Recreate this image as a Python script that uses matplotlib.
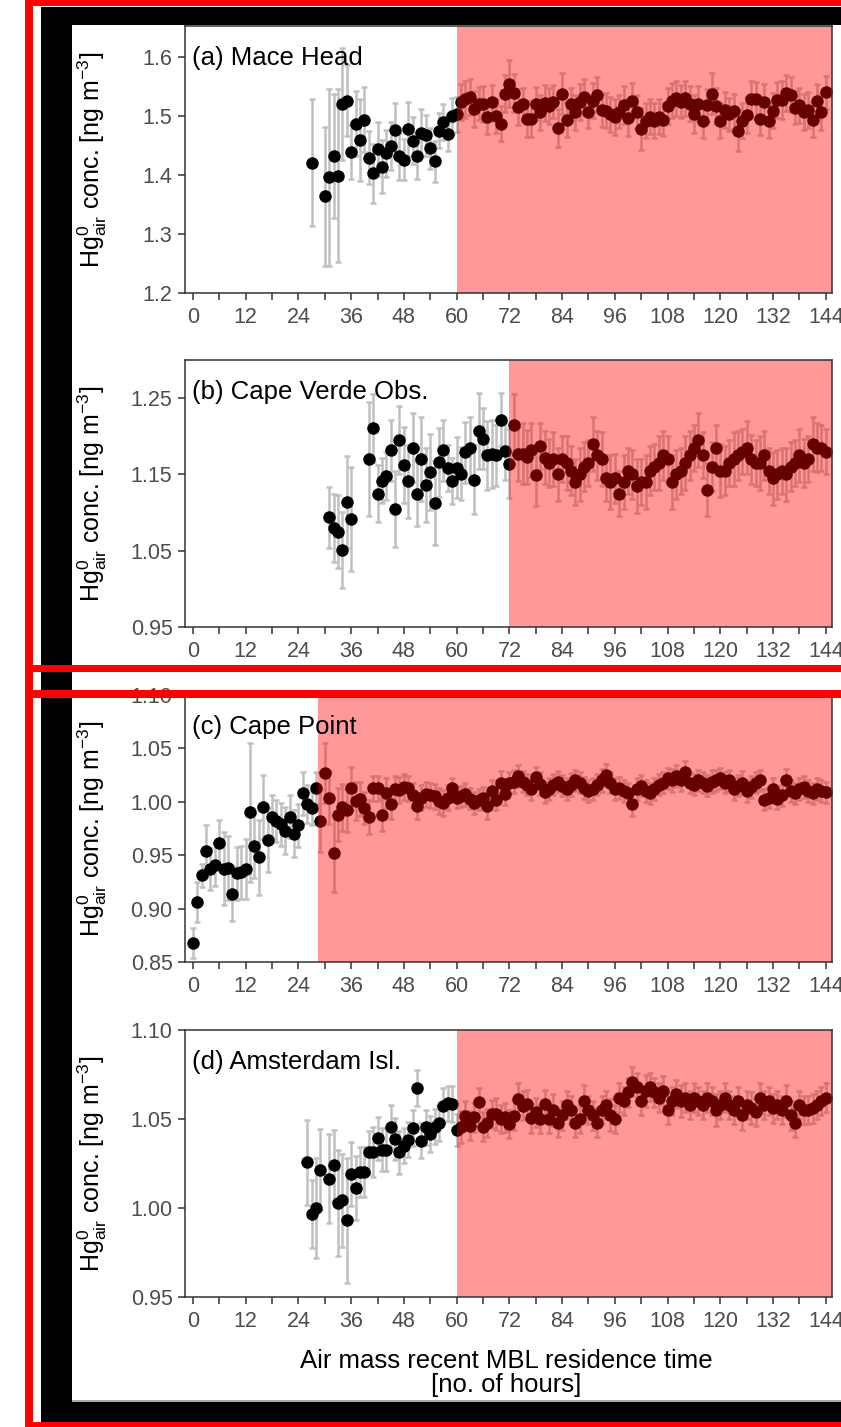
import matplotlib
matplotlib.use("Agg")
import matplotlib.pyplot as plt
from matplotlib.patches import Rectangle

plt.rcParams['font.family'] = ['Liberation Sans', 'DejaVu Sans']
plt.rcParams['mathtext.fontset'] = 'custom'
plt.rcParams['mathtext.rm'] = 'Liberation Sans'
plt.rcParams['mathtext.it'] = 'Liberation Sans:italic'

# ---- data ----
hours_a = [27] + list(range(30, 145))
conc_a = [1.421, 1.364, 1.396, 1.432, 1.399, 1.521, 1.526, 1.439, 1.487, 1.459, 1.494, 1.429,
          1.403, 1.444, 1.414, 1.437, 1.449, 1.477, 1.432, 1.426, 1.478, 1.458, 1.433, 1.471,
          1.467, 1.445, 1.423, 1.475, 1.490, 1.470, 1.500, 1.503,
          1.524, 1.528, 1.532, 1.512, 1.521, 1.520, 1.498, 1.523, 1.500, 1.487, 1.538, 1.555,
          1.539, 1.515, 1.520, 1.495, 1.495, 1.521, 1.506, 1.522, 1.517, 1.524, 1.480, 1.538,
          1.494, 1.520, 1.506, 1.524, 1.532, 1.507, 1.526, 1.536, 1.510, 1.509, 1.503, 1.498,
          1.507, 1.518, 1.496, 1.526, 1.507, 1.478, 1.492, 1.499, 1.492, 1.499, 1.494, 1.517,
          1.526, 1.530, 1.524, 1.530, 1.521, 1.503, 1.521, 1.492, 1.518, 1.538, 1.517, 1.492,
          1.510, 1.503, 1.508, 1.475, 1.492, 1.502, 1.528, 1.528, 1.495, 1.524, 1.492, 1.509,
          1.527, 1.527, 1.539, 1.536, 1.514, 1.518, 1.507, 1.510, 1.494, 1.526, 1.507, 1.540]
err_a = [0.108, 0.118, 0.150, 0.105, 0.147, 0.095, 0.060, 0.045, 0.055, 0.070, 0.055, 0.045,
         0.050, 0.045, 0.045, 0.040, 0.040, 0.045, 0.040, 0.035, 0.045, 0.040, 0.040, 0.040,
         0.035, 0.035, 0.035, 0.030, 0.030, 0.030, 0.030, 0.030,
         0.030, 0.032, 0.030, 0.030, 0.028, 0.030, 0.028, 0.030, 0.028, 0.030, 0.032, 0.040,
         0.032, 0.030, 0.028, 0.030, 0.030, 0.028, 0.030, 0.030, 0.030, 0.028, 0.032, 0.035,
         0.030, 0.028, 0.030, 0.030, 0.030, 0.028, 0.030, 0.030, 0.028, 0.030, 0.030, 0.030,
         0.028, 0.032, 0.030, 0.030, 0.028, 0.035, 0.030, 0.030, 0.030, 0.030, 0.028, 0.030,
         0.030, 0.030, 0.028, 0.030, 0.030, 0.032, 0.030, 0.030, 0.028, 0.035, 0.030, 0.030,
         0.030, 0.028, 0.030, 0.035, 0.030, 0.030, 0.032, 0.030, 0.028, 0.030, 0.030, 0.030,
         0.030, 0.032, 0.030, 0.030, 0.028, 0.030, 0.030, 0.030, 0.030, 0.028, 0.030, 0.028]

hours_b = list(range(31, 37)) + list(range(40, 145))
conc_b = [1.094, 1.080, 1.075, 1.051, 1.114, 1.092,
          1.170, 1.211, 1.125, 1.142, 1.148, 1.182, 1.105, 1.195, 1.162, 1.141, 1.185, 1.125,
          1.170, 1.136, 1.153, 1.113, 1.166, 1.182, 1.158, 1.141, 1.159, 1.151, 1.179, 1.185,
          1.143, 1.207, 1.197, 1.175, 1.177, 1.175, 1.222, 1.181, 1.164, 1.215, 1.177, 1.177,
          1.173, 1.182, 1.149, 1.187, 1.172,
          1.165, 1.170, 1.150, 1.170, 1.165, 1.155, 1.140, 1.150, 1.160, 1.165, 1.190, 1.175,
          1.170, 1.145, 1.140, 1.145, 1.125, 1.140, 1.155, 1.150, 1.135, 1.140, 1.140, 1.155,
          1.160, 1.165, 1.175, 1.170, 1.140, 1.150, 1.155, 1.165, 1.175, 1.185, 1.195, 1.175,
          1.130, 1.160, 1.185, 1.155, 1.155, 1.165, 1.170, 1.175, 1.180, 1.185, 1.170, 1.165,
          1.165, 1.175, 1.155, 1.145, 1.150, 1.155, 1.150, 1.160, 1.165, 1.175, 1.165, 1.170,
          1.190, 1.185, 1.185, 1.180]
err_b = [0.040, 0.045, 0.048, 0.050, 0.060, 0.068,
         0.075, 0.045, 0.038, 0.030, 0.032, 0.040, 0.050, 0.045, 0.050, 0.048, 0.045, 0.042,
         0.055, 0.048, 0.050, 0.055, 0.045, 0.040, 0.030, 0.030, 0.040, 0.035, 0.040, 0.040,
         0.045, 0.050, 0.040, 0.045, 0.045, 0.040, 0.035, 0.038, 0.045, 0.040, 0.035, 0.040,
         0.035, 0.035, 0.040, 0.030, 0.035, 0.032, 0.035, 0.035, 0.030, 0.035, 0.032, 0.030,
         0.035, 0.032, 0.030, 0.035, 0.032, 0.035, 0.030, 0.035, 0.032, 0.030, 0.035, 0.030,
         0.032, 0.035, 0.030, 0.035, 0.032, 0.030, 0.035, 0.032, 0.030, 0.035, 0.032, 0.030,
         0.035, 0.032, 0.030, 0.035, 0.030, 0.035, 0.032, 0.030, 0.035, 0.032, 0.030, 0.035,
         0.032, 0.030, 0.035, 0.032, 0.030, 0.035, 0.032, 0.030, 0.035, 0.032, 0.030, 0.035,
         0.032, 0.030, 0.035, 0.032, 0.030, 0.035, 0.032, 0.030, 0.030]

hours_c = list(range(0, 145))
conc_c = [0.868, 0.906, 0.931, 0.954, 0.937, 0.941, 0.961, 0.9375, 0.938, 0.914,
          0.933, 0.934, 0.937, 0.990, 0.959, 0.948, 0.995, 0.964, 0.986, 0.982,
          0.979, 0.973, 0.986, 0.970, 0.978, 1.008, 0.998, 0.994, 1.0125, 0.982,
          1.027, 1.004, 0.952, 0.988, 0.995, 0.992, 1.0125, 1.001, 1.003, 0.994,
          0.986, 1.0125, 1.0125, 0.988, 1.008, 0.998, 1.012, 1.011, 1.014, 1.0125,
          1.006, 0.996, 1.004, 1.007, 1.006, 1.005, 1.001, 0.999, 1.004, 1.0125,
          1.004, 1.005, 1.007, 1.003, 0.999, 1.002, 1.004, 0.996, 1.010, 1.002,
          1.018, 1.007, 1.018, 1.019, 1.024, 1.019, 1.016, 1.012, 1.023, 1.017,
          1.009, 1.012, 1.016, 1.019, 1.015, 1.012, 1.016, 1.020, 1.018, 1.013,
          1.010, 1.012, 1.016, 1.020, 1.025, 1.018, 1.012, 1.013, 1.010, 1.008,
          0.998, 1.012, 1.015, 1.010, 1.008, 1.012, 1.016, 1.018, 1.022, 1.020,
          1.024, 1.020, 1.028, 1.018, 1.016, 1.020, 1.018, 1.015, 1.019, 1.020,
          1.022, 1.018, 1.020, 1.012, 1.015, 1.018, 1.010, 1.014, 1.018, 1.020,
          1.002, 1.004, 1.012, 1.003, 1.006, 1.020, 1.010, 1.008, 1.012, 1.014,
          1.010, 1.008, 1.012, 1.010, 1.009]
err_c = [0.014, 0.019, 0.011, 0.024, 0.020, 0.020, 0.022, 0.034, 0.030, 0.026, 0.025, 0.025,
         0.028, 0.065, 0.030, 0.035, 0.030, 0.030, 0.020, 0.020, 0.020, 0.022, 0.020, 0.022,
         0.020, 0.020, 0.018, 0.016, 0.015, 0.029, 0.028, 0.025, 0.036, 0.025, 0.022, 0.020,
         0.020, 0.018, 0.016, 0.015, 0.016, 0.012, 0.012, 0.015, 0.014, 0.014, 0.012, 0.012,
         0.012, 0.012, 0.012, 0.012, 0.012, 0.012, 0.012, 0.012, 0.012, 0.012, 0.012, 0.010,
         0.010, 0.010, 0.011, 0.010, 0.010, 0.010, 0.010, 0.012, 0.010, 0.010, 0.011, 0.010,
         0.010, 0.011, 0.010, 0.010, 0.010, 0.010, 0.010, 0.011, 0.010, 0.010, 0.010, 0.010,
         0.010, 0.010, 0.011, 0.010, 0.010, 0.010, 0.010, 0.010, 0.010, 0.011, 0.010, 0.010,
         0.010, 0.010, 0.010, 0.010, 0.011, 0.010, 0.010, 0.010, 0.010, 0.010, 0.010, 0.010,
         0.010, 0.011, 0.010, 0.010, 0.010, 0.010, 0.010, 0.010, 0.010, 0.010, 0.011, 0.010,
         0.010, 0.010, 0.010, 0.010, 0.010, 0.011, 0.010, 0.010, 0.010, 0.010, 0.010, 0.010,
         0.010, 0.010, 0.010, 0.011, 0.010, 0.010, 0.010, 0.010, 0.010, 0.010, 0.010, 0.010,
         0.010]

hours_d = [26, 27, 28, 29] + list(range(31, 145))
conc_d = [1.0257, 0.9968, 1.0000, 1.0216,
          1.0164, 1.0239, 1.0028, 1.0043, 0.9931, 1.0192, 1.0112, 1.0201, 1.0201, 1.0313,
          1.0313, 1.0392, 1.0327, 1.0328, 1.0457, 1.0388, 1.0313, 1.0351, 1.0384, 1.0450,
          1.0674, 1.0379, 1.0453, 1.0416, 1.0457, 1.0476, 1.0575, 1.0588, 1.0584, 1.0438,
          1.0453, 1.0519, 1.0463, 1.0509, 1.0593, 1.0457, 1.0478, 1.0528, 1.0528, 1.0500,
          1.0509, 1.0472, 1.0519, 1.0612, 1.0575, 1.0584, 1.0504, 1.0537, 1.0500, 1.0584,
          1.050, 1.055, 1.048, 1.052, 1.058, 1.055, 1.048, 1.050, 1.060, 1.055,
          1.052, 1.048, 1.055, 1.058, 1.052, 1.050, 1.062, 1.060, 1.065, 1.071,
          1.068, 1.060, 1.066, 1.068, 1.065, 1.062, 1.066, 1.055, 1.060, 1.064,
          1.060, 1.062, 1.058, 1.062, 1.060, 1.058, 1.062, 1.060, 1.055, 1.058,
          1.062, 1.058, 1.055, 1.060, 1.052, 1.058, 1.056, 1.054, 1.062, 1.058,
          1.060, 1.056, 1.058, 1.055, 1.060, 1.052, 1.048, 1.058, 1.055, 1.055,
          1.056, 1.058, 1.060, 1.062]
err_d = [0.024, 0.019, 0.028, 0.023,
         0.025, 0.020, 0.030, 0.026, 0.035, 0.018, 0.018, 0.014, 0.014, 0.012, 0.014, 0.012,
         0.012, 0.012, 0.012, 0.012, 0.012, 0.010, 0.010, 0.010, 0.010, 0.010, 0.010, 0.010,
         0.010, 0.010, 0.010, 0.010, 0.010, 0.009, 0.009, 0.008, 0.008, 0.008, 0.008, 0.008,
         0.008, 0.008, 0.009, 0.008, 0.008, 0.008, 0.008, 0.009, 0.008, 0.008, 0.008, 0.008,
         0.008, 0.008, 0.008, 0.009, 0.008, 0.008, 0.008, 0.008, 0.008, 0.008, 0.009, 0.008,
         0.008, 0.008, 0.008, 0.008, 0.009, 0.008, 0.008, 0.008, 0.008, 0.008, 0.008, 0.008,
         0.009, 0.008, 0.008, 0.008, 0.008, 0.008, 0.008, 0.008, 0.009, 0.008, 0.008, 0.008,
         0.008, 0.008, 0.008, 0.008, 0.009, 0.008, 0.008, 0.008, 0.008, 0.008, 0.008, 0.008,
         0.009, 0.008, 0.008, 0.008, 0.008, 0.008, 0.008, 0.008, 0.009, 0.008, 0.008, 0.008,
         0.008, 0.008, 0.008, 0.008, 0.008, 0.008]

names = ["(a) Mace Head", "(b) Cape Verde Obs.", "(c) Cape Point", "(d) Amsterdam Isl."]
shade_start = [60, 72, 28.5, 60]
ylims = [(1.2, 1.6525), (0.95, 1.30), (0.85, 1.10), (0.95, 1.10)]
yticks = [[1.2, 1.3, 1.4, 1.5, 1.6], [0.95, 1.05, 1.15, 1.25],
          [0.85, 0.90, 0.95, 1.00, 1.05, 1.10], [0.95, 1.00, 1.05, 1.10]]
ytick_labels = [["1.2", "1.3", "1.4", "1.5", "1.6"], ["0.95", "1.05", "1.15", "1.25"],
                ["0.85", "0.90", "0.95", "1.00", "1.05", "1.10"], ["0.95", "1.00", "1.05", "1.10"]]
xtick_vals = list(range(0, 145, 6))

series = [(hours_a, conc_a, err_a), (hours_b, conc_b, err_b),
          (hours_c, conc_c, err_c), (hours_d, conc_d, err_d)]
for h, c, e in series:
    assert len(h) == len(c) == len(e), (len(h), len(c), len(e))

W, H = 841, 1427
fig = plt.figure(figsize=(W / 100, H / 100), dpi=100)


def box(l, t, r, b):
    # pixel box (origin top-left) -> figure fraction rect
    return [l / W, 1 - b / H, (r - l) / W, (b - t) / H]


tops = [26, 360, 695, 1030]
axis_col = "#333333"
ylab = r"Hg$^{0}_{\mathrm{air}}$ conc. [ng m$^{-3}$]"

for i, (h, c, e) in enumerate(series):
    ax = fig.add_axes(box(185, tops[i], 832, tops[i] + 267))
    ax.errorbar(h, c, yerr=e, fmt="none", ecolor="#c0c0c0", elinewidth=1.8,
                capsize=2, capthick=1.8, zorder=2)
    ax.plot(h, c, "o", color="black", ms=9, mew=0, zorder=3)
    ax.axvspan(shade_start[i], 150, color="red", alpha=0.4, lw=0, zorder=4)
    ax.set_xlim(-1.8, 145.4)
    ax.set_ylim(*ylims[i])
    ax.set_xticks(xtick_vals)
    ax.set_xticklabels([str(t) if t % 12 == 0 else "" for t in xtick_vals])
    ax.set_yticks(yticks[i])
    ax.set_yticklabels(ytick_labels[i])
    ax.tick_params(direction="out", length=5, width=1.1, color=axis_col,
                   labelcolor="#4d4d4d", labelsize=15.5)
    ax.tick_params(axis="x", pad=5)
    ax.tick_params(axis="y", pad=4)
    for sp in ax.spines.values():
        sp.set_color(axis_col)
        sp.set_linewidth(1.1)
        sp.set_zorder(5)
    ax.text(0.011, 0.855, names[i], transform=ax.transAxes, fontsize=18.5,
            ha="left", va="baseline", zorder=6)
    ax.text(-0.131, 0.5, ylab, transform=ax.transAxes, rotation=90,
            rotation_mode="anchor", ha="center", va="baseline", fontsize=18)

fig.text(506 / W, 1 - 1368 / H, "Air mass recent MBL residence time",
         ha="center", va="baseline", fontsize=18.5)
fig.text(506 / W, 1 - 1392 / H, "[no. of hours]",
         ha="center", va="baseline", fontsize=18.5)


def frame(l, t, r, b, col):
    fig.add_artist(Rectangle((l / W, 1 - b / H), (r - l) / W, (b - t) / H,
                             transform=fig.transFigure, facecolor=col,
                             edgecolor="none", zorder=20))


# black border of the screenshot
frame(41, 7, 850, 25, "black")
frame(41, 7, 72, 1422, "black")
frame(41, 1401, 850, 1422, "black")
frame(72, 1400, 850, 1401.5, "#aaaaaa")
# red highlight boxes
frame(25, 0, 850, 6, "red")
frame(25, 0, 33, 1430, "red")
frame(25, 665, 850, 672, "red")
frame(25, 690, 850, 698, "red")
frame(25, 1422, 850, 1430, "red")

fig.savefig("out.png", dpi=100)
